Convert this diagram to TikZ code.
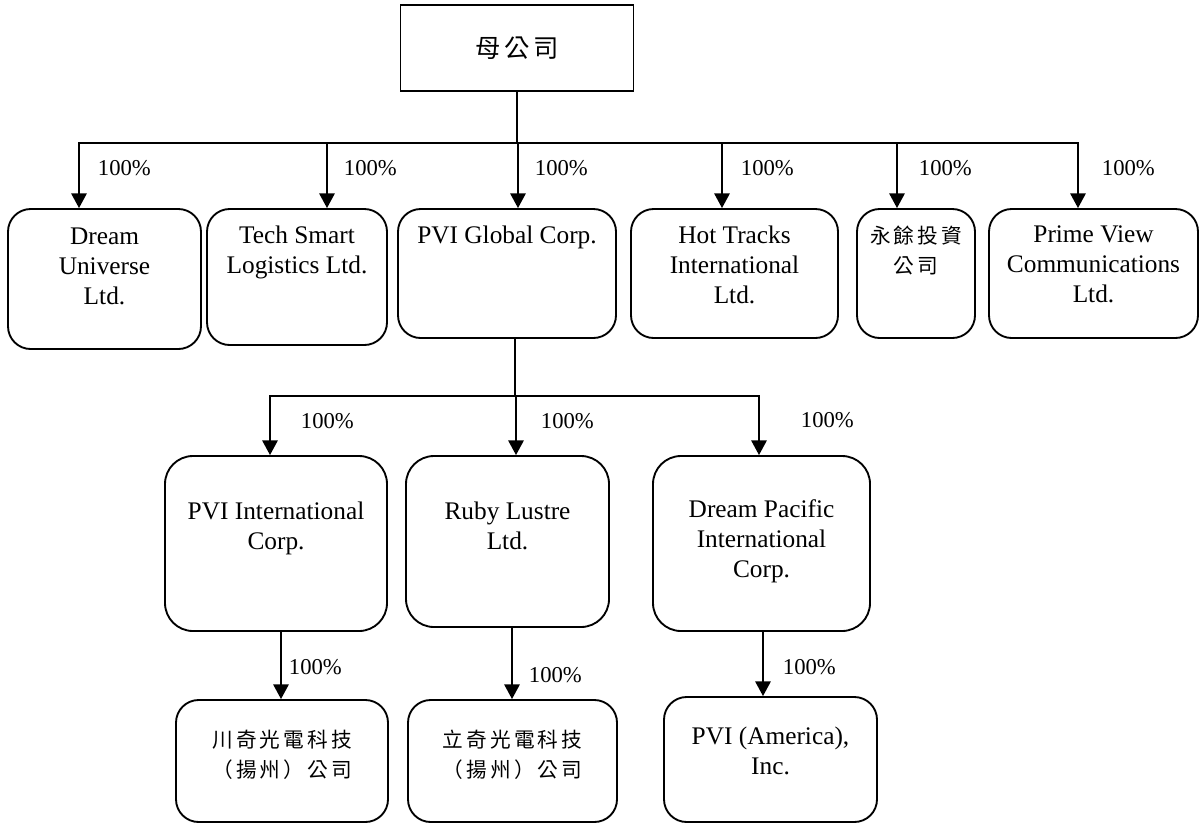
\documentclass[tikz,border=0pt]{standalone}
\usepackage{fontspec}
\setmainfont{Liberation Serif}
\newfontfamily\cjk[LetterSpace=15]{Noto Sans CJK TC}
\usetikzlibrary{arrows.meta, positioning, calc}

\begin{document}
\begin{tikzpicture}[x=0.75pt, y=-0.75pt,
    orgbox/.style={draw, line width=1.4pt, rounded corners=17pt, inner sep=0pt},
    roomy/.style={rounded corners=21pt},
    txt/.style={align=center, inner sep=0pt, font=\fontsize{19}{22.5}\selectfont},
    cjktxt/.style={align=center, inner sep=0pt, font=\cjk\fontsize{15.5}{22.5}\selectfont},
    pct/.style={anchor=west, inner sep=0pt, font=\fontsize{17}{20}\selectfont},
    arr/.style={line width=1.4pt, -{Triangle[width=11.5pt, length=11pt]}}]
  \useasboundingbox (0,0) rectangle (1201,825);

  % Parent company
  \node[draw, line width=1.4pt, minimum width=174.75pt, minimum height=64.5pt, inner sep=0pt,
        font=\cjk\fontsize{19}{22}\selectfont] (mom) at (517,48) {母公司};

  % First level
  \node[orgbox, minimum width=144.75pt, minimum height=105pt] (du) at (104.5,279) {};
  \node[orgbox, minimum width=135pt, minimum height=102pt] (ts) at (297,277) {};
  \node[orgbox, minimum width=163.5pt, minimum height=96.75pt] (pg) at (507,273.5) {};
  \node[orgbox, minimum width=155.25pt, minimum height=96.75pt] (ht) at (734.5,273.5) {};
  \node[orgbox, minimum width=88.5pt, minimum height=96.75pt] (yy) at (916,273.5) {};
  \node[orgbox, minimum width=156.75pt, minimum height=96.75pt] (pv) at (1093.5,273.5) {};

  \node[txt, below=15pt of du.north] (du-t) {Dream\\Universe\\Ltd.};
  \node[txt, below=13pt of ts.north] (ts-t) {Tech Smart\\Logistics Ltd.};
  \node[txt, below=13pt of pg.north] (pg-t) {PVI Global Corp.};
  \node[txt, below=13pt of ht.north] (ht-t) {Hot Tracks\\International\\Ltd.};
  \node[cjktxt, below=13pt of yy.north] (yy-t) {永餘投資\\公司};
  \node[txt, below=13pt of pv.north] (pv-t) {Prime View\\Communications\\Ltd.};

  \foreach \n/\dx/\lx in {du/-25.5/13.5pt, ts/30/12pt, pg/11/12pt, ht/-12.5/13.5pt, yy/-19/15.75pt, pv/-15.5/17.25pt}
    \draw[arr] (mom.south) |- ($(\n.north)+(\dx,-65)$)
      -- node[pct, pos=0.38, xshift=\lx] (p-\n) {100\%} ($(\n.north)+(\dx,0)$);

  % Second level
  \node[orgbox, roomy, minimum width=166.5pt, minimum height=131.25pt] (pi) at (276,543.5) {};
  \node[orgbox, roomy, minimum width=152.25pt, minimum height=128.25pt] (rl) at (507.5,541.5) {};
  \node[orgbox, roomy, minimum width=162.75pt, minimum height=131.25pt] (dp) at (761.5,543.5) {};

  \node[txt, below=35pt of pi.north] (pi-t) {PVI International\\Corp.};
  \node[txt, below=35pt of rl.north] (rl-t) {Ruby Lustre\\Ltd.};
  \node[txt, below=33.5pt of dp.north] (dp-t) {Dream Pacific\\International\\Corp.};

  \foreach \n/\dx/\lx/\ps in {pi/-6/22.5pt/0.43, rl/8.5/18pt/0.43, dp/-2.5/30.75pt/0.41}
    \draw[arr] ($(pg.south)+(8,0)$) |- ($(\n.north)+(\dx,-59)$)
      -- node[pct, pos=\ps, xshift=\lx] (p-\n) {100\%} ($(\n.north)+(\dx,0)$);

  % Third level
  \node[orgbox, minimum width=159pt, minimum height=91.5pt] (cq) at (282,761) {};
  \node[orgbox, minimum width=156.75pt, minimum height=91.5pt] (lq) at (512.5,761) {};
  \node[orgbox, minimum width=159.75pt, minimum height=93.75pt] (pa) at (770.5,759.5) {};

  \node[cjktxt, below=23pt of cq.north] (cq-t) {川奇光電科技\\（揚州）公司};
  \node[cjktxt, below=23pt of lq.north] (lq-t) {立奇光電科技\\（揚州）公司};
  \node[txt, below=23pt of pa.north] (pa-t) {PVI (America),\\Inc.};

  \foreach \p/\n/\sx/\dx/\lx/\ps in {pi/cq/5/-1/5.25pt/0.52, rl/lq/4.5/-0.5/12pt/0.66, dp/pa/1.5/-7.5/14.25pt/0.55}
    \draw[arr] ($(\p.south)+(\sx,0)$)
      -- node[pct, pos=\ps, xshift=\lx] (p-\n) {100\%} ($(\n.north)+(\dx,0)$);
\end{tikzpicture}
\end{document}
